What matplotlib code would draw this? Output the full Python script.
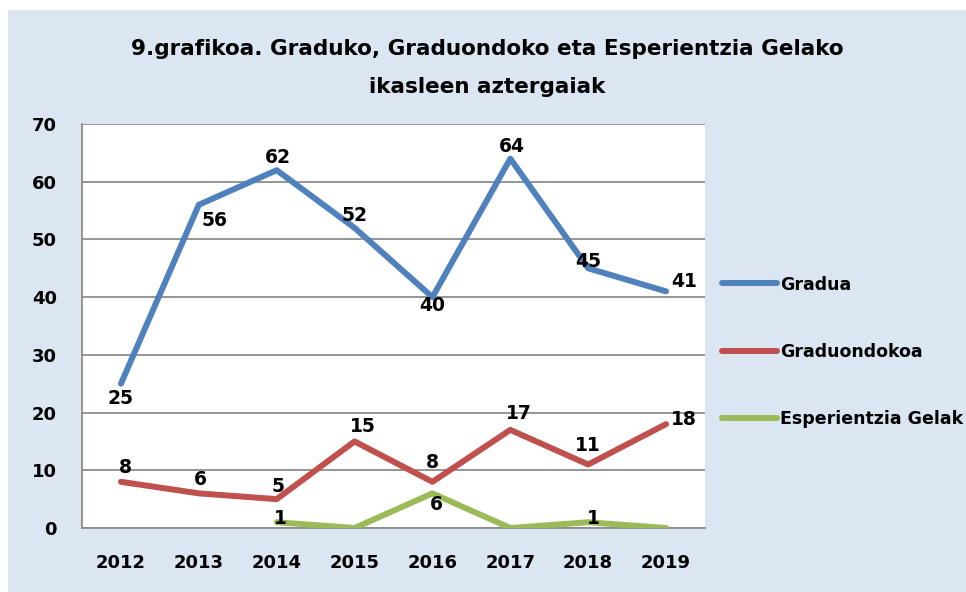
import matplotlib.pyplot as plt
from matplotlib.patches import Rectangle

years = ['2012', '2013', '2014', '2015', '2016', '2017', '2018', '2019']
gradua = [25, 56, 62, 52, 40, 64, 45, 41]
graduondokoa = [8, 6, 5, 15, 8, 17, 11, 18]
esperientzia = [None, None, 1, 0, 6, 0, 1, 0]

title = '9.grafikoa. Graduko, Graduondoko eta Esperientzia Gelako\nikasleen aztergaiak'
names = ['Gradua', 'Graduondokoa', 'Esperientzia Gelak']
colors = ['#4f81bd', '#c0504d', '#9bbb59']

# label offsets in points (dx, dy) -- mimics excel's placement
off_gradua = [(0, -11), (11, -11), (1, 9), (0, 9), (0, -6), (1, 9), (0, 5), (13, 7)]
off_grado = [(3, 10), (1, 10), (1, 9), (6, 11), (0, 14), (6, 12), (0, 14), (13, 3)]
off_esp = [(3, 3), None, (3, -8), None, (4, 3), None]

plt.rcParams['font.family'] = ['DejaVu Sans']
plt.rcParams['font.weight'] = 'bold'

fig = plt.figure(figsize=(9.66, 5.92), dpi=100)
fig.patch.set_facecolor('white')
fig.patches.append(Rectangle((8 / 966, 0), 1, 1 - 10 / 592, transform=fig.transFigure,
                             facecolor='#dce6f2', edgecolor='none', zorder=-10))

ax = fig.add_axes([82 / 966, 1 - 528 / 592, (705 - 82) / 966, (528 - 124) / 592])
ax.set_facecolor('white')

x = list(range(len(years)))
ax.plot(x, gradua, color=colors[0], lw=4.3, solid_capstyle='round', label=names[0], zorder=3)
ax.plot(x, graduondokoa, color=colors[1], lw=4.3, solid_capstyle='round', label=names[1], zorder=3)
ax.plot(x[2:], esperientzia[2:], color=colors[2], lw=4.3, solid_capstyle='round', label=names[2], zorder=3)

for xi, v, o in zip(x, gradua, off_gradua):
    ax.annotate(str(v), (xi, v), xytext=o, textcoords='offset points',
                ha='center', va='center', fontsize=13.5, fontweight='bold', zorder=5)
for xi, v, o in zip(x, graduondokoa, off_grado):
    ax.annotate(str(v), (xi, v), xytext=o, textcoords='offset points',
                ha='center', va='center', fontsize=13.5, fontweight='bold', zorder=5)
for xi, v, o in zip(x[2:], esperientzia[2:], off_esp):
    if o is None or v == 0:
        continue
    ax.annotate(str(v), (xi, v), xytext=o, textcoords='offset points',
                ha='center', va='center', fontsize=13.5, fontweight='bold', zorder=5)

ax.set_xlim(-0.5, len(years) - 0.5)
ax.set_ylim(0, 70)
ax.set_yticks(range(0, 71, 10))
ax.set_xticks(x)
ax.set_xticklabels(years)
ax.tick_params(axis='both', length=0, labelsize=13)
ax.tick_params(axis='y', pad=18)
ax.tick_params(axis='x', pad=19)
for lab in ax.get_xticklabels() + ax.get_yticklabels():
    lab.set_fontweight('bold')
ax.grid(axis='y', color='#8c8c8c', lw=1.3)
ax.set_axisbelow(True)
for s in ['top', 'right']:
    ax.spines[s].set_visible(False)
for s in ['left', 'bottom']:
    ax.spines[s].set_color('#8c8c8c')
    ax.spines[s].set_linewidth(1.3)

fig.text(487 / 966, 1 - 68 / 592, title, ha='center', va='center',
         fontsize=15.5, fontweight='bold', linespacing=2.15)

leg = ax.legend(loc='center left', bbox_to_anchor=(706 / 966, 1 - 352 / 592),
                bbox_transform=fig.transFigure, frameon=False, fontsize=12.5,
                handlelength=3.2, handletextpad=0.15, labelspacing=2.85)
for t in leg.get_texts():
    t.set_fontweight('bold')

fig.savefig('out.png', dpi=100)
